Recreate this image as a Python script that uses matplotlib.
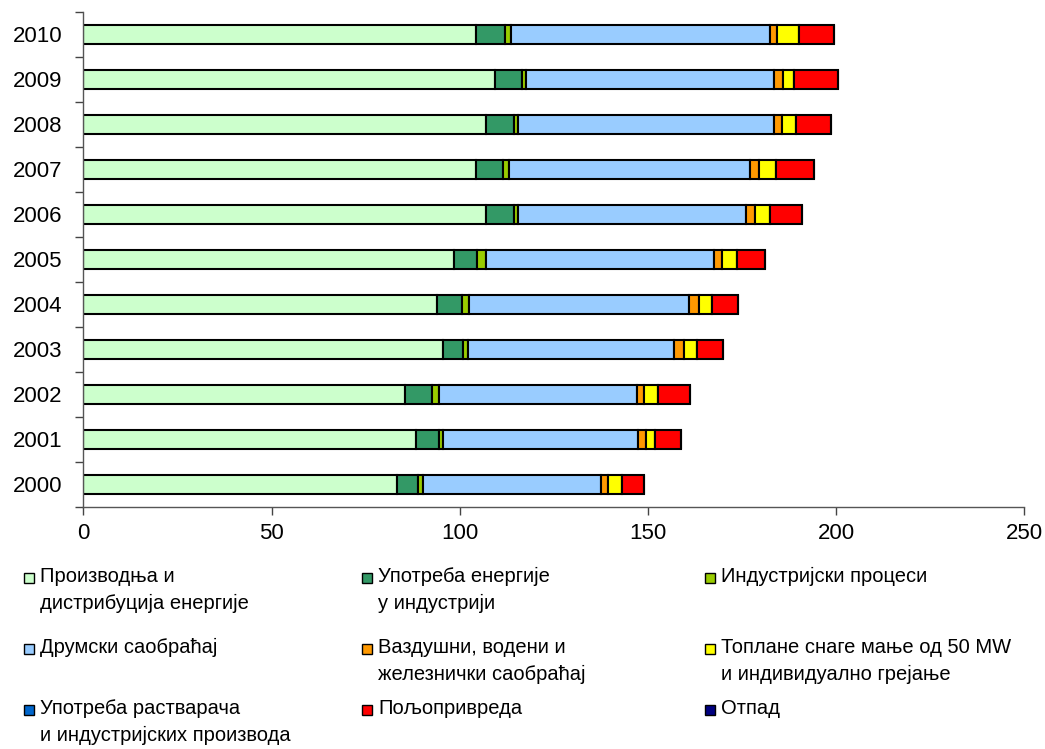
# Stacked bar chart of emissions by sector, 2000-2010

import matplotlib.pyplot as plt
from matplotlib.patches import Rectangle
import numpy as np

plt.rcParams['font.family'] = ['Liberation Sans', 'DejaVu Sans']

years = ['2000', '2001', '2002', '2003', '2004', '2005',
         '2006', '2007', '2008', '2009', '2010']

energy_production = [83.4, 88.4, 85.4, 95.5, 94.0, 98.5, 106.9, 104.3, 106.9, 109.4, 104.3]
industry_energy = [5.6, 6.1, 7.1, 5.4, 6.5, 6.0, 7.5, 7.3, 7.5, 7.0, 7.7]
industrial_processes = [1.1, 1.0, 2.0, 1.2, 2.0, 2.5, 1.1, 1.5, 1.1, 1.2, 1.5]
road_transport = [47.3, 51.9, 52.5, 54.9, 58.5, 60.6, 60.6, 64.0, 68.0, 65.9, 68.9]
other_transport = [2.1, 2.1, 2.0, 2.6, 2.6, 2.0, 2.3, 2.4, 2.0, 2.5, 2.0]
small_heating = [3.5, 2.4, 3.6, 3.5, 3.5, 4.0, 4.0, 4.5, 3.8, 2.9, 5.6]
solvents = [0, 0, 0, 0, 0, 0, 0, 0, 0, 0, 0]
agriculture = [6.0, 6.8, 8.6, 6.9, 6.9, 7.5, 8.6, 10.1, 9.3, 11.7, 9.5]
waste = [0, 0, 0, 0, 0, 0, 0, 0, 0, 0, 0]

labels = ['Производња и\nдистрибуција енергије',
          'Употреба енергије\nу индустрији',
          'Индустријски процеси',
          'Друмски саобраћај',
          'Ваздушни, водени и\nжелезнички саобраћај',
          'Топлане снаге мање од 50 MW\nи индивидуално грејање',
          'Употреба растварача\nи индустријских производа',
          'Пољопривреда',
          'Отпад']
colors = ['#CCFFCC', '#339966', '#99CC00', '#99CCFF', '#FF9900',
          '#FFFF00', '#0066CC', '#FF0000', '#000080']
series = [energy_production, industry_energy, industrial_processes, road_transport,
          other_transport, small_heating, solvents, agriculture, waste]

fig = plt.figure(figsize=(10.45, 7.49), dpi=100)
ax = fig.add_axes([0.0799, 0.3235, 0.9003, 0.6605])

y = np.arange(len(years))
left = np.zeros(len(years))
for vals, col in zip(series, colors):
    vals = np.array(vals, dtype=float)
    ax.barh(y, vals, left=left, height=0.42, color=col,
            edgecolor='black', linewidth=1.5)
    left += vals

ax.set_xlim(0, 250)
ax.set_ylim(-0.5, len(years) - 0.5)
ax.set_xticks([0, 50, 100, 150, 200, 250])
ax.set_yticks(y)
ax.set_yticklabels(years)
ax.set_yticks(np.arange(-0.5, len(years), 1), minor=True)
ax.tick_params(axis='y', which='major', length=0, pad=15, labelsize=16)
ax.tick_params(axis='y', which='minor', length=6, color='#444444', width=1)
ax.tick_params(axis='x', length=6, color='#444444', width=1, pad=6, labelsize=16)
for s in ['top', 'right']:
    ax.spines[s].set_visible(False)
for s in ['left', 'bottom']:
    ax.spines[s].set_color('#555555')
    ax.spines[s].set_linewidth(1)

# legend drawn by hand: square next to first line of each label
W, H = 1045.0, 749.0
col_x = [24, 362, 705]
row_y = [578, 649, 710]
for i, (lab, col) in enumerate(zip(labels, colors)):
    r, c = divmod(i, 3)
    sx, sy = col_x[c], row_y[r]
    fig.patches.append(Rectangle((sx / W, 1 - (sy + 5) / H), 10 / W, 10 / H,
                                 transform=fig.transFigure, facecolor=col,
                                 edgecolor='black', linewidth=1))
    fig.text((sx + 16) / W, 1 - (sy - 11) / H, lab, fontsize=14.5,
             va='top', ha='left', linespacing=1.5)

plt.savefig('out.png', dpi=100)
